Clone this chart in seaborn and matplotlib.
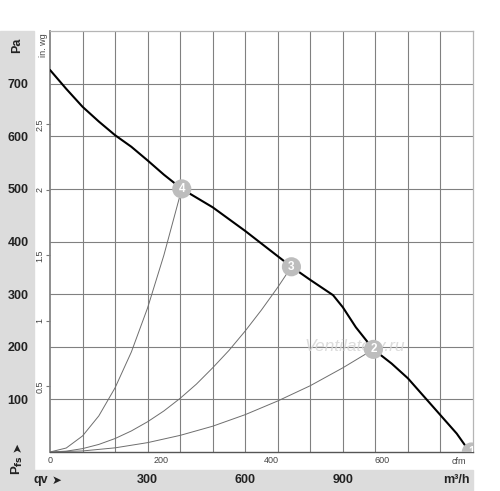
import numpy as np
import matplotlib
matplotlib.use("Agg")
import matplotlib.pyplot as plt
import seaborn as sns
from matplotlib.patches import Rectangle

# fan curve (q in m3/h, p in Pa)
fan_q = [0, 50, 100, 150, 200, 250, 300, 350, 405, 500, 600, 700, 742, 800,
         870, 900, 940, 994, 1050, 1100, 1150, 1200, 1250, 1290]
fan_p = [726, 690, 656, 628, 602, 580, 554, 527, 500, 465, 420, 372, 352, 327,
         298, 275, 237, 195, 168, 140, 105, 70, 35, 0]

# system curves through the operating points
sys4_q = [0, 50, 100, 150, 200, 250, 300, 350, 405]
sys4_p = [0, 7.6, 30.5, 68.6, 122, 190, 274, 374, 500]
sys3_q = [0, 50, 100, 150, 200, 250, 300, 350, 400, 450, 500, 550, 600, 650, 700, 742]
sys3_p = [0, 1.6, 6.4, 14.4, 25.6, 40, 57.5, 78, 102, 129, 160, 193, 230, 270, 313, 352]
sys2_q = [0, 100, 200, 300, 400, 500, 600, 700, 800, 900, 994]
sys2_p = [0, 2, 7.9, 17.8, 31.6, 49, 71, 97, 126, 160, 195]

# operating points
pt_labels = ["4", "3", "2", "1"]
pt_q = [405, 742, 994, 1295]
pt_p = [500, 352, 195, 0]

pa_ticks = [100, 200, 300, 400, 500, 600, 700]
inwg_ticks = [0.5, 1, 1.5, 2, 2.5]
m3h_ticks = [300, 600, 900]
cfm_ticks = [0, 200, 400, 600]

sns.set_theme(style="white")
plt.rcParams["font.family"] = ["Liberation Sans", "DejaVu Sans"]

W, H = 500, 491
fig = plt.figure(figsize=(W / 100, H / 100), dpi=100)
ax = fig.add_axes([50 / W, 1 - 452 / H, 423 / W, 421 / H])

# grey strips (behind the axes)
strip = "#dcdcdc"
fig.patches.append(Rectangle((0, 0), 34 / W, 1 - 31 / H, transform=fig.transFigure,
                             color=strip, zorder=-5))
fig.patches.append(Rectangle((0, 0), 473 / W, 21 / H, transform=fig.transFigure,
                             color=strip, zorder=-5))

ax.set_xlim(0, 1300)
ax.set_ylim(0, 800)

# grid
ax.set_xticks(m3h_ticks)
ax.set_xticks(np.arange(100, 1300, 100), minor=True)
ax.set_yticks(pa_ticks)
ax.grid(True, which="both", color="#808080", lw=0.8)
ax.tick_params(which="both", length=0)
ax.set_yticklabels([str(v) for v in pa_ticks], fontsize=9, fontweight="bold", color="#222222")
ax.tick_params(axis="y", pad=15.5)
ax.set_xticklabels([str(v) for v in m3h_ticks], fontsize=9, fontweight="bold", color="#222222")
ax.tick_params(axis="x", pad=16)

for s in ["top", "right"]:
    ax.spines[s].set_color("#b5b5b5")
    ax.spines[s].set_linewidth(0.9)
ax.spines["left"].set_color("#808080")
ax.spines["bottom"].set_color("#555555")
ax.spines["bottom"].set_linewidth(1.0)

# in. wg secondary axis
sec_y = ax.secondary_yaxis("left", functions=(lambda p: p / 249.09, lambda w: w * 249.09))
sec_y.set_yticks(inwg_ticks)
sec_y.set_yticklabels(["0.5", "1", "1.5", "2", "2.5"], rotation=90, va="center",
                      fontsize=6.5, color="#444444")
sec_y.tick_params(length=3, width=0.8, color="#777777", pad=1)
sec_y.spines["left"].set_visible(False)

# cfm secondary axis
sec_x = ax.secondary_xaxis("bottom", functions=(lambda q: q / 1.699, lambda c: c * 1.699))
sec_x.set_xticks(cfm_ticks)
sec_x.set_xticklabels([str(v) for v in cfm_ticks], fontsize=6.5, color="#444444")
sec_x.tick_params(length=0, pad=3)
sec_x.spines["bottom"].set_visible(False)

# curves
for q, p in [(sys4_q, sys4_p), (sys3_q, sys3_p), (sys2_q, sys2_p)]:
    sns.lineplot(x=q, y=p, ax=ax, color="#6e6e6e", lw=0.7, sort=False, zorder=3)
sns.lineplot(x=fan_q, y=fan_p, ax=ax, color="black", lw=1.5, sort=False, zorder=4)

# watermark
ax.text(0.72, 0.25, "Ventilatory.ru", transform=ax.transAxes, fontsize=12.5,
        style="italic", color="#d6d6d6", alpha=0.85, ha="center", va="center", zorder=2)

sns.scatterplot(x=pt_q, y=pt_p, ax=ax, s=190, color="#bdbdbd", edgecolor="none",
                zorder=5, clip_on=True)
for lab, q, p in zip(pt_labels, pt_q, pt_p):
    ax.text(q, p, lab, color="white", fontsize=8.5, fontweight="bold",
            ha="center", va="center", zorder=6, clip_on=True)

# unit labels
dark = "#222222"
fig.text(17 / W, 1 - 45 / H, "Pa", rotation=90, ha="center", va="center",
         fontsize=9, fontweight="bold", color=dark)
fig.text(43 / W, 1 - 45 / H, "in. wg", rotation=90, ha="center", va="center",
         fontsize=6.5, color="#444444")
fig.text(17 / W, 1 - 465 / H, "P$_{\\mathbf{fs}}$", rotation=90, ha="center",
         va="center", fontsize=9.5, fontweight="bold", color=dark)
fig.text(17 / W, 1 - 447 / H, "\u27a4", rotation=90, ha="center", va="center",
         fontsize=8.5, color=dark, family=["DejaVu Sans"])
fig.text(33 / W, 1 - 480 / H, "qv", ha="left", va="center",
         fontsize=9, fontweight="bold", color=dark)
fig.text(57 / W, 1 - 480 / H, "\u27a4", ha="center", va="center",
         fontsize=8.5, color=dark, family=["DejaVu Sans"])
fig.text(470 / W, 1 - 480 / H, "m\u00b3/h", ha="right", va="center",
         fontsize=9, fontweight="bold", color=dark)
ax.text(1258, -18, "cfm", ha="center", va="center", fontsize=6.5, color="#444444")

fig.savefig("out.png", dpi=100)
